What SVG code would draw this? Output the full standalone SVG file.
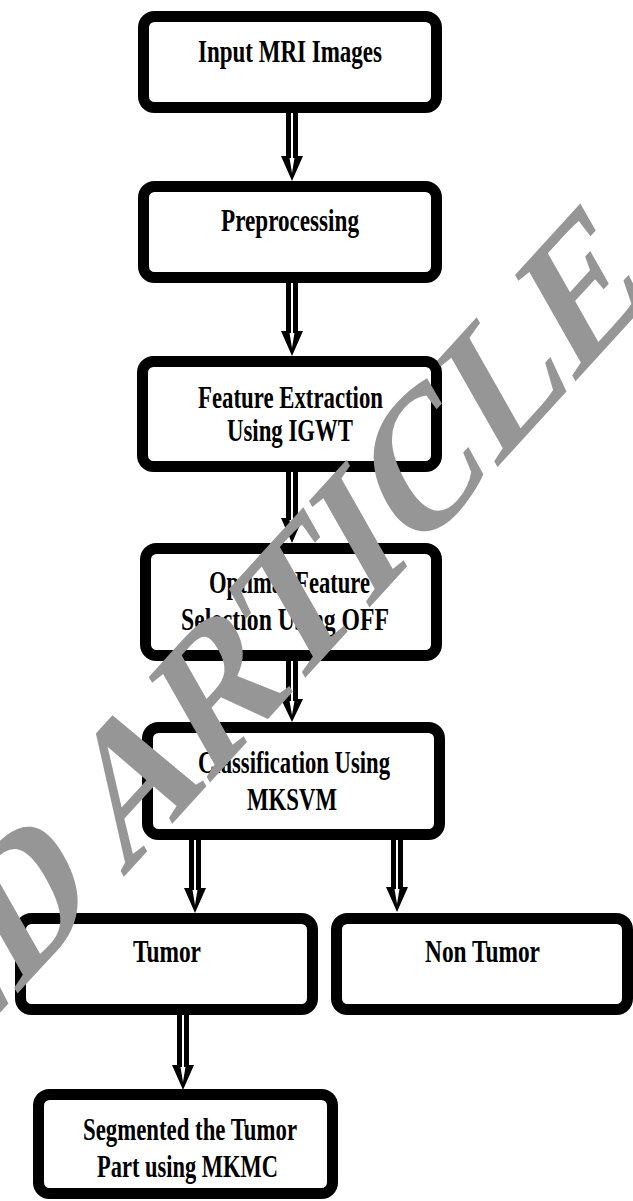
<svg xmlns="http://www.w3.org/2000/svg" width="633" height="1201" viewBox="0 0 633 1201">
<style>
.box{fill:#fff;stroke:#000;stroke-width:11}
.lbl{font-family:"Liberation Serif","Times New Roman",serif;font-weight:bold;font-size:32px;fill:#000;text-anchor:middle}
.ab{fill:#000}
.aw{fill:#fff}
.wm{font-family:"Liberation Serif","Times New Roman",serif;font-weight:bold;font-size:207px;fill:#969696;text-anchor:end}
</style>
<rect width="633" height="1201" fill="#fff"/>
<g id="n1"><rect class="box" x="143.5" y="16.5" width="293" height="91" rx="11"/>
<text class="lbl" x="290" y="62" textLength="184" lengthAdjust="spacingAndGlyphs">Input MRI Images</text></g>
<g id="n2"><rect class="box" x="143.5" y="186.5" width="293" height="91" rx="11"/>
<text class="lbl" x="290" y="231" textLength="138" lengthAdjust="spacingAndGlyphs">Preprocessing</text></g>
<g id="n3"><rect class="box" x="142.5" y="361.5" width="294" height="105" rx="11"/>
<text class="lbl" x="290.5" y="408" textLength="185" lengthAdjust="spacingAndGlyphs">Feature Extraction</text>
<text class="lbl" x="290" y="441" textLength="126" lengthAdjust="spacingAndGlyphs">Using IGWT</text></g>
<g id="n4"><rect class="box" x="145.5" y="548.5" width="291" height="107" rx="11"/>
<text class="lbl" x="289.5" y="593" textLength="161" lengthAdjust="spacingAndGlyphs">Optimal Feature</text>
<text class="lbl" x="285" y="630" textLength="208" lengthAdjust="spacingAndGlyphs">Selection Using OFF</text></g>
<g id="n5"><rect class="box" x="147.5" y="727.5" width="292" height="107" rx="11"/>
<text class="lbl" x="294" y="773" textLength="192" lengthAdjust="spacingAndGlyphs">Classification Using</text>
<text class="lbl" x="292" y="810" textLength="90" lengthAdjust="spacingAndGlyphs">MKSVM</text></g>
<g id="n6"><rect class="box" x="20.5" y="918.5" width="292" height="91" rx="11"/>
<text class="lbl" x="167" y="962" textLength="68" lengthAdjust="spacingAndGlyphs">Tumor</text></g>
<g id="n7"><rect class="box" x="336.5" y="918.5" width="291" height="91" rx="11"/>
<text class="lbl" x="482.5" y="962" textLength="115" lengthAdjust="spacingAndGlyphs">Non Tumor</text></g>
<g id="n8"><rect class="box" x="38.5" y="1094.5" width="294" height="99" rx="11"/>
<text class="lbl" x="190" y="1140" textLength="214" lengthAdjust="spacingAndGlyphs">Segmented the Tumor</text>
<text class="lbl" x="187.5" y="1177" textLength="181" lengthAdjust="spacingAndGlyphs">Part using MKMC</text></g>
<g id="connectors">
<path class="ab" d="M286,111H298V156H303L292,181L281,156H286Z"/>
<path class="aw" d="M291,113H293V158H294.5L292,173L289.5,158H291Z"/>
<path class="ab" d="M286,281H298V331H303L292,356L281,331H286Z"/>
<path class="aw" d="M291,283H293V333H294.5L292,348L289.5,333H291Z"/>
<path class="ab" d="M286,470H298V518H303L292,543L281,518H286Z"/>
<path class="aw" d="M291,472H293V520H294.5L292,535L289.5,520H291Z"/>
<path class="ab" d="M286,659H298V699H303L292,722L281,699H286Z"/>
<path class="aw" d="M291,661H293V701H294.5L292,715L289.5,701H291Z"/>
<path class="ab" d="M189,838H201V888H206L195,913L184,888H189Z"/>
<path class="aw" d="M194,840H196V890H197.5L195,905L192.5,890H194Z"/>
<path class="ab" d="M391,838H403V887H408L397,912L386,887H391Z"/>
<path class="aw" d="M396,840H398V889H399.5L397,904L394.5,889H396Z"/>
<path class="ab" d="M177,1013H189V1065H194L183,1090L172,1065H177Z"/>
<path class="aw" d="M182,1015H184V1067H185.5L183,1082L180.5,1067H182Z"/>
</g>
<g id="watermark" transform="scale(0.72,1)">
<text class="wm" transform="translate(905,298) rotate(-38.3)">RETRACTED ARTICLE</text>
</g>
</svg>
